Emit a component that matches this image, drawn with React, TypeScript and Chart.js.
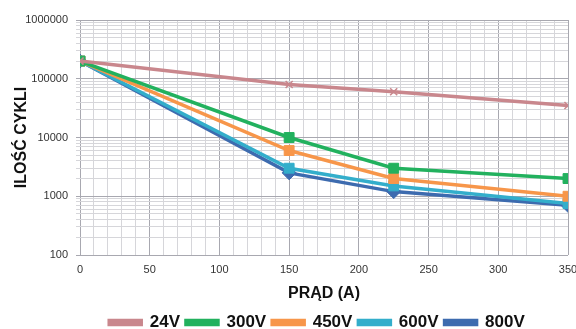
import React, { useEffect, useRef } from "react";
import { Chart, registerables } from "chart.js";
Chart.register(...registerables);

const xValues = [0, 150, 225, 350];
const seriesNames = ["24V", "300V", "450V", "600V", "800V"];
const v24 = [200000, 80000, 60000, 35000];
const v300 = [200000, 10000, 3000, 2000];
const v450 = [200000, 6000, 2000, 1000];
const v600 = [200000, 3000, 1500, 750];
const v800 = [200000, 2500, 1200, 700];
const colors = ["#C9878D", "#22B15E", "#F7964A", "#33AECB", "#3D6BAF"];
const markers = ["crossRot", "rect", "rect", "rect", "rectRot"];

const legendShift = {
  id: "legendShift",
  afterLayout(chart: any) {
    const lg = chart.legend;
    if (lg) {
      lg.left += 33;
      lg.right += 33;
    }
  },
};

export default function App() {
  const ref = useRef<HTMLCanvasElement>(null);
  useEffect(() => {
    document.body.style.margin = "0";
    const all = [v24, v300, v450, v600, v800];
    const datasets = all.map((vals, i) => ({
      label: seriesNames[i],
      data: vals.map((v, j) => ({ x: xValues[j], y: v })),
      borderColor: colors[i],
      backgroundColor: colors[i],
      borderWidth: 3.5,
      pointStyle: markers[i] as any,
      pointRadius: i === 0 ? 5 : 7,
      pointBorderWidth: i === 0 ? 1.5 : 1,
      pointBackgroundColor: colors[i],
      pointBorderColor: colors[i],
      tension: 0,
    }));
    const chart = new Chart(ref.current!, {
      type: "line",
      data: { datasets },
      plugins: [legendShift],
      options: {
        animation: false,
        responsive: false,
        layout: { padding: { left: 0, right: 8, top: 20, bottom: -12 } },
        plugins: {
          legend: {
            position: "bottom",
            labels: {
              boxWidth: 32,
              boxHeight: 4,
              padding: 6,
              color: "#111",
              font: { family: "Liberation Sans", size: 17, weight: "bold" },
            },
          },
          tooltip: { enabled: false },
        },
        scales: {
          x: {
            type: "linear",
            min: 0,
            max: 350,
            afterFit: (s: any) => {
              s.height = 53;
              s.paddingRight = 0;
              s.paddingLeft = 0;
            },
            ticks: {
              stepSize: 10,
              autoSkip: false,
              maxRotation: 0,
              padding: 8,
              color: "#333",
              font: { family: "Liberation Sans", size: 11 },
              callback: (v: any) => (Number(v) % 50 === 0 ? String(v) : ""),
            },
            grid: {
              color: (c: any) => (c.tick && c.tick.value % 50 === 0 ? "#a8a8b0" : "#d6d6da"),
              lineWidth: 1,
              drawTicks: false,
            },
            border: { display: false },
            title: {
              display: true,
              text: "PRĄD (A)",
              color: "#111",
              font: { family: "Liberation Sans", size: 16, weight: "bold" },
              padding: { top: 0, bottom: 5 },
            },
          },
          y: {
            type: "logarithmic",
            min: 100,
            max: 1000000,
            afterFit: (s: any) => {
              s.width = 80;
            },
            afterBuildTicks: (axis: any) => {
              const t: any[] = [];
              for (let e = 2; e <= 5; e++) {
                for (let m = 1; m <= 9; m++) t.push({ value: m * Math.pow(10, e), major: m === 1 });
              }
              t.push({ value: 1000000, major: true });
              axis.ticks = t;
            },
            ticks: {
              autoSkip: false,
              color: "#333",
              font: { family: "Liberation Sans", size: 11 },
              padding: 8,
              callback: (v: any) => {
                const l = Math.log10(Number(v));
                return Math.abs(l - Math.round(l)) < 1e-9 ? String(v) : "";
              },
            },
            grid: {
              color: (c: any) => {
                const v = c.tick ? c.tick.value : 1;
                const l = Math.log10(v);
                return Math.abs(l - Math.round(l)) < 1e-9 ? "#a8a8b0" : "#d6d6da";
              },
              lineWidth: 1,
              tickLength: 4,
            },
            border: { display: false },
            title: {
              display: true,
              text: "ILOŚĆ CYKLI",
              color: "#111",
              font: { family: "Liberation Sans", size: 16, weight: "bold" },
              padding: { top: 12, bottom: 0 },
            },
          },
        },
      },
    });
    return () => chart.destroy();
  }, []);
  return <canvas ref={ref} width={576} height={329} />;
}
